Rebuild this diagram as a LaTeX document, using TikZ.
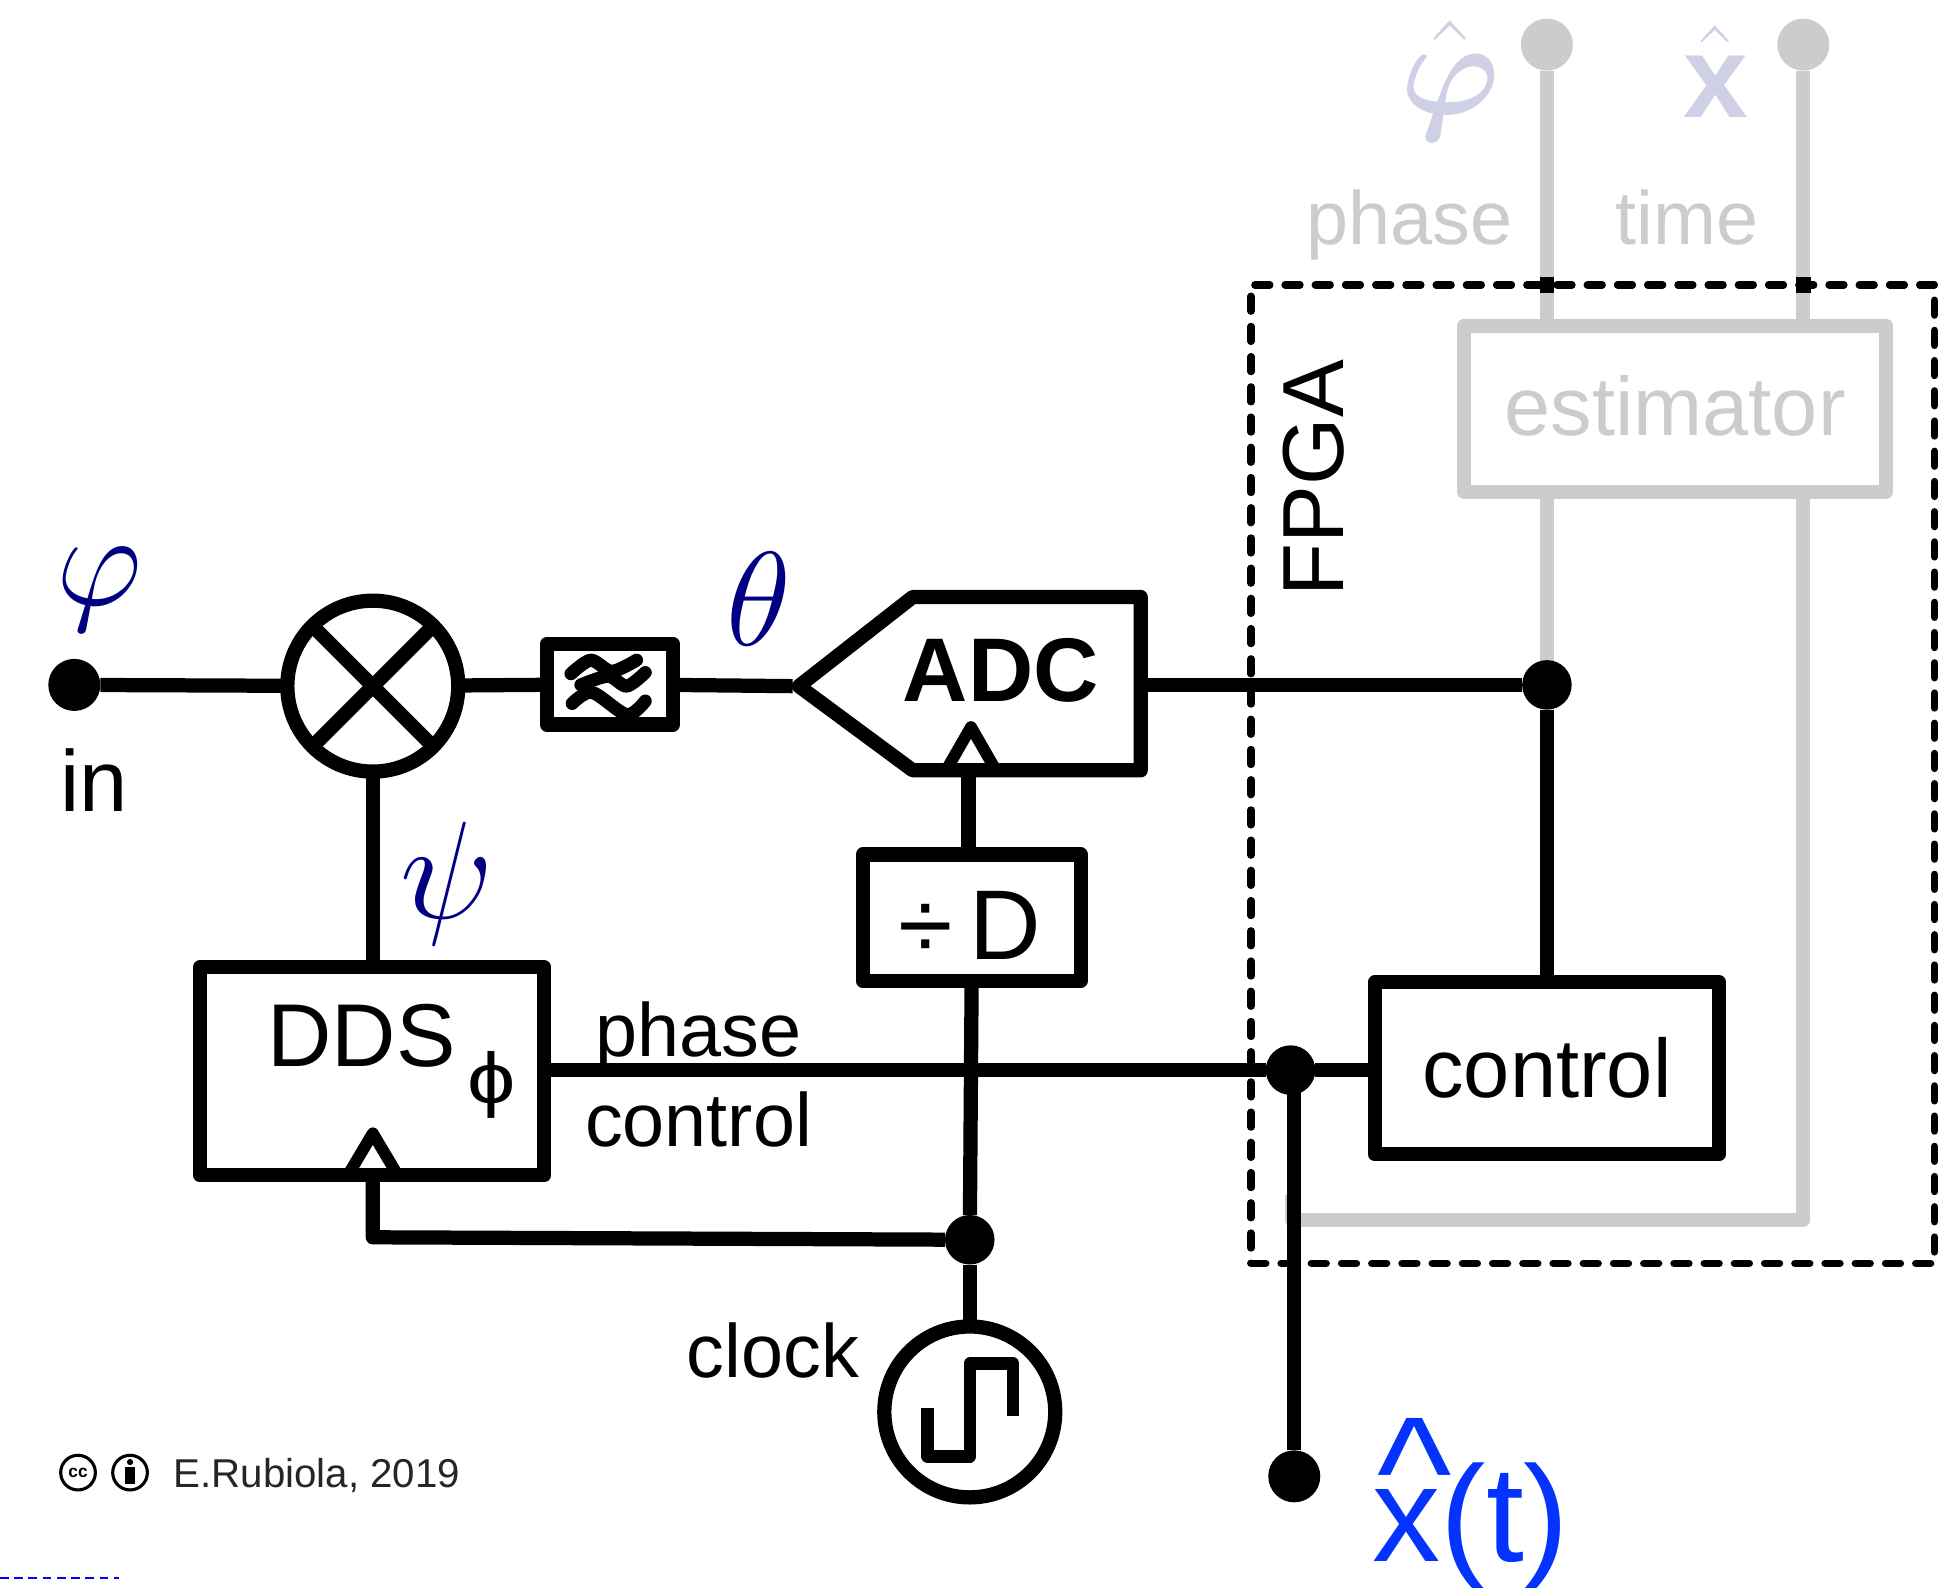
\documentclass[tikz,border=0pt]{standalone}
\usepackage{fix-cm}
\usepackage{amsmath}
\usepackage{xcolor}
\usepackage{fontspec}
\setmainfont{Liberation Sans}
\usepackage{tikz}
\definecolor{fadegray}{HTML}{CCCCCC}
\definecolor{fadeblue}{HTML}{CFCFE6}
\definecolor{sigblue}{HTML}{000080}
\definecolor{outblue}{HTML}{0433FF}
\newcommand{\fsz}[1]{\fontsize{#1}{#1}\selectfont}

\begin{document}
\begin{tikzpicture}[x=1pt, y=-1pt, line join=round,
    wire/.style={line width=11.5pt},
    fade/.style={line width=11.5pt, draw=fadegray},
    blockbox/.style={draw, line width=11.5pt, outer sep=0pt, inner sep=0pt},
    dot/.style={circle, fill, inner sep=0pt, outer sep=0pt, minimum size=42pt},
    lbl/.style={inner sep=0pt, font=\fsz{61}},
    sym/.style={inner sep=0pt, text=sigblue, font=\fsz{108}}]
    \useasboundingbox (0,0) rectangle (1568,1282);

    % faded part
    \node[dot, fadegray] (phout) at (1249,36) {};
    \node[dot, fadegray] (timeout) at (1456,36) {};
    \node[blockbox, fadegray, minimum width=341pt, minimum height=134pt] (est) at (1352.5,330) {};
    \node[lbl, text=fadegray, font=\fsz{67}] (esttxt) at (1352.5,328) {estimator};
    \coordinate (back) at (1043.5,985);
    \draw[fade] (phout) -- (phout |- est.north);
    \draw[fade] (timeout) -- (timeout |- est.north);
    \draw[fade] (phout |- est.south) -- (1249,553);
    \draw[fade] (timeout |- est.south) -- (timeout |- back) -- (back) -- (1043.5,965);
    \node[lbl, text=fadegray] (phtxt) at (1138,182) {phase};
    \node[lbl, text=fadegray] (timetxt) at (1362,176) {time};
    \node[sym, text=fadeblue, font=\fsz{108}] (phihat) at (1171,65) {$\hat{\boldsymbol{\varphi}}$};
    \node[sym, text=fadeblue, font=\fsz{94}\bfseries] (xhat) at (1385,58) {$\hat{\text{x}}$};

    % FPGA frame
    \node[draw, line width=6pt, line cap=round, dash pattern=on 12pt off 12.4pt, minimum width=552pt, minimum height=790pt] (fpga) at (1286,625) {};
    \node[lbl, rotate=90, font=\fsz{70}] (fpgatxt) at (1061,386) {FPGA};
    \fill (1243,223.5) rectangle (1255,236.5);
    \fill (1450,223.5) rectangle (1462,236.5);

    % signal path
    \node[dot] (in) at (60,553) {};
    \node[lbl, font=\fsz{70}] (intxt) at (76,630) {in};
    \node[blockbox, circle, minimum size=138pt] (mix) at (301,554) {};
    \draw[wire] (mix.45) -- (mix.225);
    \draw[wire] (mix.135) -- (mix.315);
    \node[blockbox, minimum width=102pt, minimum height=65pt] (lpf) at (492.5,552.5) {};
    \draw[line width=10.5pt, line cap=round] plot[smooth] coordinates {(461,544) (477,533) (494,542) (514,533)};
    \draw[line width=10.5pt, line cap=round] plot[smooth] coordinates {(469,553) (491,546) (506,554) (521,543)};
    \draw[line width=10.5pt, line cap=round] plot[smooth] coordinates {(462,568) (478,559) (506,577) (521,566)};
    \coordinate (adctip) at (645,554);
    \coordinate (adctop) at (737,482);
    \coordinate (adcbot) at (737,622);
    \draw[wire] (adctip) -- (adctop) -- (921,482) -- (921,622) -- (adcbot) -- cycle;
    \node[lbl, font=\fsz{73}\bfseries] (adc) at (808,541) {ADC};
    \draw[wire] (in) -- (mix);
    \draw[wire] (mix) -- (lpf);
    \draw[wire] (lpf) -- (640,554);
    \node[sym] (phi) at (80,476) {$\varphi$};
    \node[sym] (theta) at (613,484) {$\theta$};
    \node[sym, font=\fsz{112}] (psi) at (361,714) {$\psi$};

    % clock triangles
    \draw[line width=9.5pt] (765,620) -- (784,587) -- (803,620);
    \coordinate (adcclk) at (782,622);

    % dds and divider
    \node[blockbox, minimum width=278pt, minimum height=168pt] (dds) at (300.5,865) {};
    \node[lbl, font=\fsz{72}] (ddstxt) at (292,836) {DDS};
    \node[lbl, font=\fsz{58}, xscale=1.2] (ddssub) at (397,876) {ϕ};
    \draw[line width=9.5pt] (282,947) -- (301,915) -- (320,947);
    \draw[wire] (mix) -- (mix |- dds.north);
    \node[blockbox, minimum width=176pt, minimum height=102pt] (div) at (784.5,741) {};
    \node[lbl, font=\fsz{80}] (divtxt) at (783,747) {÷\,D};
    \draw[wire] (adcclk) -- (adcclk |- div.north);

    % control
    \node[blockbox, minimum width=278pt, minimum height=139pt, font=\fsz{67}] (ctrl) at (1249,862.5) {control};
    \node[dot, minimum size=40pt] (adcdot) at (1249,553) {};
    \node[dot, minimum size=40pt] (ctrldot) at (1042,864) {};
    \node[dot, minimum size=40pt] (clkdot) at (783,1001) {};
    \node[blockbox, circle, minimum size=138pt] (clk) at (783,1140) {};
    \draw[line width=10pt] (818,1143) -- (818,1101) -- (783,1101) -- (783,1176) -- (749,1176) -- (749,1137);
    \node[dot] (xout) at (1045,1192) {};
    \draw[wire] (921,553) -- (adcdot);
    \draw[wire] (adcdot) -- (ctrl.north -| adcdot);
    \draw[wire] (dds.east |- ctrldot) -- (ctrldot);
    \draw[wire] (ctrldot) -- (ctrl.west |- ctrldot);
    \draw[wire] (1045,864) -- (xout);
    \draw[wire] (div.south) -- (clkdot);
    \draw[wire] (clkdot) -- (clk);
    \draw[wire] (301,947) -- (301,999) -- (clkdot);
    \node[lbl] (phase) at (564,837) {phase};
    \node[lbl] (control) at (564,904) {control};
    \node[lbl] (clock) at (624,1090) {clock};
    \node[lbl, text=outblue, font=\fsz{110}, anchor=base west] (xt) at (1108,1261) {\rlap{\hspace{4pt}\raisebox{28pt}{\fsz{128}\textasciicircum}}x(t)};

    % credit line
    \node[draw, circle, line width=2.5pt, minimum size=28pt, inner sep=0pt, font=\fsz{14}\bfseries] (cc) at (63,1189) {cc};
    \node[draw, circle, line width=2.5pt, minimum size=28pt, inner sep=0pt] (by) at (105,1189) {};
    \fill ([yshift=8.5pt]by) circle (2.5pt);
    \fill ([xshift=-4pt,yshift=4.5pt]by) rectangle ([xshift=4pt,yshift=-9pt]by);
    \node[lbl, font=\fsz{32.5}, anchor=west, text=black!85] (credit) at (140,1191) {E.Rubiola, 2019};
    \draw[blue, line width=2pt, dash pattern=on 7pt off 4.5pt] (0,1274) -- (96,1274);
\end{tikzpicture}
\end{document}
